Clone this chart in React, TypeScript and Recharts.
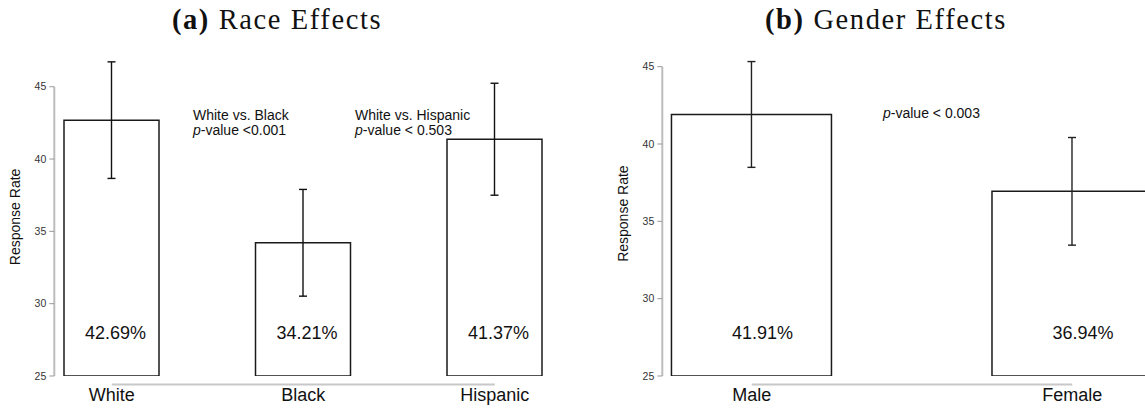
import { BarChart, Bar, XAxis, YAxis, ErrorBar, LabelList, ReferenceLine } from 'recharts'

const SANS = '"Liberation Sans", Arial, sans-serif'
const SERIF = '"Liberation Serif", "Times New Roman", serif'

// race panel
const RACE = ['White', 'Black', 'Hispanic']
const RACE_RATE = [42.69, 34.21, 41.37]
const RACE_ERR = [4.03, 3.69, 3.87]

// gender panel
const GENDER = ['Male', 'Female']
const GENDER_RATE = [41.91, 36.94]
const GENDER_ERR = [3.42, 3.48]

const Y_TICKS = [25, 30, 35, 40, 45]

const raceRows = RACE.map((c, i) => ({ idx: i, name: c, rate: RACE_RATE[i], err: RACE_ERR[i] }))
const genderRows = GENDER.map((c, i) => ({ idx: i, name: c, rate: GENDER_RATE[i], err: GENDER_ERR[i] }))

const pctLabel = (dx: number) => (p: any) => {
  const vb = p.viewBox ?? p
  const { x, y, width, height } = vb
  return (
    <text x={x + width / 2 + dx} y={y + height - 37} textAnchor="middle" fontSize={18} fill="#111" fontFamily={SANS}>
      {Number(p.value).toFixed(2)}%
    </text>
  )
}

// x-axis line R style: first to last category, a few px under the bars
const lowLine = (p: any) => (
  <line x1={p.x1} x2={p.x2} y1={p.y1 + 8.5} y2={p.y2 + 8.5} stroke="#c8c8c8" strokeWidth={2} />
)

type PanelProps = {
  rows: any[]
  cats: string[]
  width: number
  top: number
  right: number
  yWidth: number
  xDomain: [number, number]
  yDomain: [number, number]
  barSize: number
  labelDx: number
  ylabOffset: number
  ylabDy: number
  errStroke: string
}

function Panel(p: PanelProps) {
  const idx = p.cats.map((_, i) => i)
  return (
    <BarChart width={p.width} height={409} data={p.rows}
      margin={{ top: p.top, right: p.right, bottom: 3, left: 0 }}>
      <XAxis dataKey="idx" type="number" domain={p.xDomain} ticks={idx} interval={0}
        tickFormatter={(v: number) => p.cats[v]} axisLine={false} tickLine={false}
        tickSize={0} tickMargin={12} tick={{ fontSize: 18, fill: '#111', fontFamily: SANS }}
        allowDataOverflow />
      <YAxis domain={p.yDomain} ticks={Y_TICKS} interval={0} width={p.yWidth} axisLine={false}
        tickSize={5} tickMargin={3} tickLine={{ stroke: '#999' }}
        tick={{ fontSize: 10.5, fill: '#333', fontFamily: SANS }} allowDataOverflow
        label={{ value: 'Response Rate', angle: -90, position: 'insideLeft', offset: p.ylabOffset, dx: p.ylabDy,
          style: { textAnchor: 'middle', fontSize: 14, fill: '#111', fontFamily: SANS } }} />
      <ReferenceLine segment={[{ x: p.xDomain[0], y: 25 }, { x: p.xDomain[0], y: 45 }]}
        stroke="#bdbdbd" strokeWidth={2} ifOverflow="visible" />
      <ReferenceLine segment={[{ x: 0, y: 25 }, { x: idx.length - 1, y: 25 }]}
        shape={lowLine} ifOverflow="visible" />
      <Bar dataKey="rate" fill="#fff" stroke="#1a1a1a" strokeWidth={1.5} barSize={p.barSize}
        isAnimationActive={false}>
        <ErrorBar dataKey="err" width={4} stroke={p.errStroke} strokeWidth={1.4} isAnimationActive={false} />
        <LabelList dataKey="rate" content={pctLabel(p.labelDx)} />
      </Bar>
    </BarChart>
  )
}

const note: React.CSSProperties = {
  position: 'absolute', fontFamily: SANS, fontSize: 14, lineHeight: '15px', color: '#111', whiteSpace: 'nowrap',
}
const title: React.CSSProperties = {
  position: 'absolute', width: 400, textAlign: 'center', fontFamily: SERIF, fontSize: 28.5,
  letterSpacing: 1.6, lineHeight: '32px', color: '#111', whiteSpace: 'nowrap',
}

export default function App() {
  return (
    <div style={{ position: 'absolute', left: 0, top: 0, width: 1145, height: 409, overflow: 'hidden', background: '#fff' }}>
      <div style={{ ...title, left: 277 - 200, top: 4 }}><b>(a)</b> Race Effects</div>
      <div style={{ ...title, left: 886 - 200, top: 4 }}><b>(b)</b> Gender Effects</div>

      <div style={{ position: 'absolute', left: 0, top: 0 }}>
        <Panel rows={raceRows} cats={RACE} width={580} top={57.8} right={27.8} yWidth={54.3}
          xDomain={[-0.3, 2.3]} yDomain={[25, 47]} barSize={95} labelDx={4} ylabOffset={15} ylabDy={0}
          errStroke="#111" />
      </div>
      <div style={{ position: 'absolute', left: 580, top: 0 }}>
        <Panel rows={genderRows} cats={GENDER} width={582} top={51.2} right={0} yWidth={82.3}
          xDomain={[-0.279, 1.28]} yDomain={[25, 46]} barSize={160} labelDx={11} ylabOffset={43} ylabDy={0}
          errStroke="#222" />
      </div>

      <div style={{ ...note, left: 193, top: 107.5 }}>White vs. Black<br /><i>p</i>-value &lt;0.001</div>
      <div style={{ ...note, left: 355, top: 107.5 }}>White vs. Hispanic<br /><i>p</i>-value &lt; 0.503</div>
      <div style={{ ...note, left: 883, top: 106 }}><i>p</i>-value &lt; 0.003</div>
    </div>
  )
}
